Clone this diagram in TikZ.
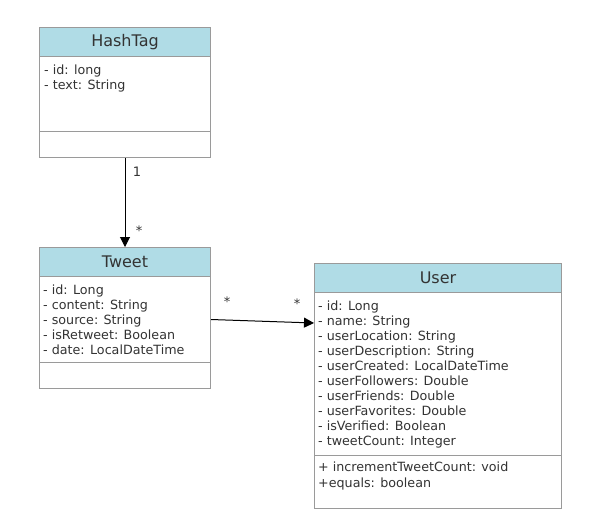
\documentclass[tikz,border=0pt]{standalone}
\usepackage{fontspec}
\setmainfont{DejaVu Sans}
\usetikzlibrary{arrows.meta}
\definecolor{hdr}{HTML}{B0DCE6}
\definecolor{bord}{HTML}{9A9A9A}
\definecolor{txt}{HTML}{333333}
\begin{document}
\begin{tikzpicture}[x=1pt,y=-1pt,
  box/.style={draw=bord, line width=1pt, rectangle, inner sep=0pt, anchor=north west, fill=white},
  hdrbox/.style={box, fill=hdr},
  title/.style={text=txt, font=\fontsize{16}{19}\selectfont, inner sep=0pt},
  attr/.style={anchor=base west, inner sep=0pt, font=\fontsize{12.7}{15}\selectfont, text=txt},
  conn/.style={-{Triangle[length=10pt,width=10pt]}, line width=1pt, black},
  mult/.style={font=\fontsize{13}{15}\selectfont, text=txt, inner sep=0pt}]
\useasboundingbox (0,0) rectangle (591,528);

% HashTag
\node[hdrbox, minimum width=171pt, minimum height=29pt] (hth) at (39,27) {};
\node[title] (htt) at (hth.center) {HashTag};
\node[box, minimum width=171pt, minimum height=75pt] (htb) at (39,56) {};
\node[box, minimum width=171pt, minimum height=26pt] (htm) at (39,131) {};
\foreach \t [count=\i] in {- id: long, - text: String}
  \node[attr] (hta\i) at (44,{74.5+15*(\i-1)}) {\t};

% Tweet
\node[hdrbox, minimum width=171pt, minimum height=29pt] (twh) at (39,247) {};
\node[title] (twt) at (twh.center) {Tweet};
\node[box, minimum width=171pt, minimum height=86pt] (twb) at (39,276) {};
\node[box, minimum width=171pt, minimum height=26pt] (twm) at (39,362) {};
\foreach \t [count=\i] in {- id: Long, - content: String, - source: String, - isRetweet: Boolean, - date: LocalDateTime}
  \node[attr] (twa\i) at (43,{294.5+15*(\i-1)}) {\t};

% User
\node[hdrbox, minimum width=247pt, minimum height=29pt] (ush) at (314,263) {};
\node[title] (ust) at (ush.center) {User};
\node[box, minimum width=247pt, minimum height=163pt] (usb) at (314,292) {};
\node[box, minimum width=247pt, minimum height=53pt] (usm) at (314,455) {};
\foreach \t [count=\i] in {- id: Long, - name: String, - userLocation: String, - userDescription: String, - userCreated: LocalDateTime, - userFollowers: Double, - userFriends: Double, - userFavorites: Double, - isVerified: Boolean, - tweetCount: Integer}
  \node[attr] (usa\i) at (318,{310.5+15*(\i-1)}) {\t};
\node[attr] (usm1) at (318,471) {+ incrementTweetCount: void};
\node[attr] (usm2) at (318,487) {+equals: boolean};

% connectors
\coordinate (uin) at (314,323);
\draw[conn] (htm.south) -- (twh.north);
\draw[conn] (twb.east) -- (uin);

% multiplicities
\node[mult] (m1) at (137,172) {1};
\node[mult] (m2) at (139,231) {*};
\node[mult] (m3) at (227,302) {*};
\node[mult] (m4) at (297,304) {*};
\end{tikzpicture}
\end{document}
